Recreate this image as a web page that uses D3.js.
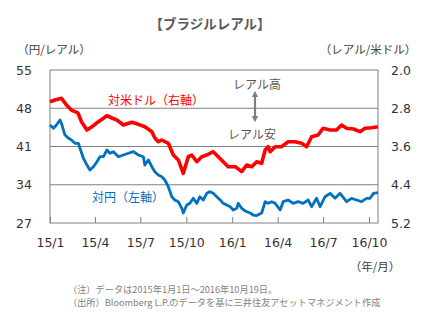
<!DOCTYPE html>
<html><head><meta charset="utf-8">
<script src="https://cdn.jsdelivr.net/npm/d3@7"></script>
<style>body{margin:0;background:#fff}svg{display:block}</style>
</head><body>
<svg id="c" width="435" height="332"></svg>
<script>
const title = "【ブラジルレアル】";
const leftTicks = [27, 34, 41, 48, 55];
const rightTicks = [2.0, 2.8, 3.6, 4.4, 5.2];
const xTickDates = ["2015-01-01","2015-04-01","2015-07-01","2015-10-01","2016-01-01","2016-04-01","2016-07-01","2016-10-01"];
const xTickLabels = ["15/1","15/4","15/7","15/10","16/1","16/4","16/7","16/10"];
const xDomain = ["2015-01-01","2016-10-19"];

const usdDates = ["2015-01-01","2015-01-11","2015-01-24","2015-02-03","2015-02-13","2015-02-26","2015-03-05","2015-03-16","2015-03-26","2015-04-08","2015-04-25","2015-05-05","2015-05-15","2015-05-28","2015-06-14","2015-06-27","2015-07-10","2015-07-24","2015-07-30","2015-08-06","2015-08-13","2015-08-26","2015-09-05","2015-09-15","2015-09-25","2015-10-05","2015-10-12","2015-10-22","2015-11-01","2015-11-11","2015-11-24","2015-12-04","2015-12-14","2015-12-24","2016-01-07","2016-01-20","2016-01-30","2016-02-09","2016-02-19","2016-02-29","2016-03-07","2016-03-13","2016-03-17","2016-03-27","2016-04-09","2016-04-22","2016-05-06","2016-05-19","2016-05-29","2016-06-08","2016-06-21","2016-07-01","2016-07-15","2016-07-28","2016-08-07","2016-08-17","2016-08-31","2016-09-13","2016-09-23","2016-10-06","2016-10-19"];
const usdValues = [2.663,2.627,2.592,2.732,2.837,2.899,3.081,3.255,3.186,3.081,2.956,3.004,3.046,3.150,3.094,3.136,3.186,3.290,3.422,3.500,3.464,3.533,3.778,3.882,4.160,3.813,3.778,3.918,3.813,3.778,3.709,3.813,3.918,4.022,4.022,4.127,3.987,4.022,3.918,3.951,3.673,3.604,3.709,3.604,3.604,3.500,3.500,3.533,3.604,3.395,3.359,3.219,3.255,3.255,3.150,3.219,3.234,3.290,3.219,3.207,3.186];

const jpyDates = ["2015-01-01","2015-01-08","2015-01-14","2015-01-21","2015-01-24","2015-01-31","2015-02-07","2015-02-13","2015-02-20","2015-02-27","2015-03-02","2015-03-09","2015-03-16","2015-03-22","2015-03-29","2015-04-05","2015-04-11","2015-04-18","2015-04-25","2015-05-01","2015-05-08","2015-05-18","2015-05-28","2015-06-07","2015-06-17","2015-06-27","2015-07-07","2015-07-10","2015-07-17","2015-07-24","2015-07-30","2015-08-06","2015-08-13","2015-08-19","2015-08-26","2015-09-02","2015-09-08","2015-09-15","2015-09-22","2015-09-25","2015-10-02","2015-10-08","2015-10-15","2015-10-22","2015-10-28","2015-11-04","2015-11-11","2015-11-17","2015-11-24","2015-12-01","2015-12-08","2015-12-14","2015-12-21","2015-12-28","2016-01-03","2016-01-10","2016-01-13","2016-01-20","2016-01-27","2016-02-06","2016-02-12","2016-02-19","2016-02-29","2016-03-07","2016-03-13","2016-03-20","2016-03-27","2016-04-06","2016-04-12","2016-04-22","2016-05-02","2016-05-12","2016-05-22","2016-06-01","2016-06-08","2016-06-18","2016-06-25","2016-07-05","2016-07-15","2016-07-25","2016-08-04","2016-08-17","2016-08-27","2016-09-06","2016-09-16","2016-09-26","2016-10-03","2016-10-10","2016-10-19"];
const jpyValues = [44.93,44.33,44.93,45.85,45.25,43.10,42.50,42.19,41.59,41.59,40.67,38.84,37.61,36.70,37.30,38.22,39.13,39.13,40.36,39.76,40.05,39.13,39.44,39.76,40.05,39.44,39.13,37.61,38.53,37.30,36.39,35.78,35.47,34.87,33.64,31.81,31.21,30.90,29.69,28.83,30.29,30.60,31.52,30.60,31.81,31.21,32.43,32.73,32.43,31.81,31.21,30.60,30.29,29.98,29.38,29.69,30.60,29.69,29.20,28.83,28.46,28.37,28.83,30.90,30.60,30.90,30.60,29.38,30.90,31.21,30.60,30.90,30.60,31.21,29.98,31.52,29.98,31.81,32.43,31.52,32.43,30.90,31.52,31.21,30.90,31.52,31.52,32.43,32.54];

const gridValues = [48, 41, 34];

const svg = d3.select("#c");
const L = 50, R = 378, T = 70, B = 223;
const parse = d3.timeParse("%Y-%m-%d");
const x = d3.scaleTime().domain(xDomain.map(parse)).range([L, R]);
const yL = d3.scaleLinear().domain([27, 55]).range([B, T]);
const yR = d3.scaleLinear().domain([2.0, 5.2]).range([T, B]);
const jp = "'Noto Sans CJK JP', sans-serif";
const num = "'DejaVu Sans', Verdana, sans-serif";

// title
svg.append("text").attr("x", 210).attr("y", 29).attr("text-anchor", "middle")
  .style("font-family", jp).style("font-size", "13.5px").style("font-weight", "bold")
  .attr("fill", "#595959").text(title);
svg.append("text").attr("x", 54).attr("y", 54).attr("text-anchor", "middle")
  .style("font-family", jp).style("font-size", "11.5px").attr("fill", "#404040").text("（円/レアル）");
svg.append("text").attr("x", 368).attr("y", 54).attr("text-anchor", "middle")
  .style("font-family", jp).style("font-size", "11.5px").attr("fill", "#404040").text("（レアル/米ドル）");

// grid
svg.append("g").selectAll("line").data(gridValues).join("line")
  .attr("x1", L).attr("x2", R).attr("y1", d => yL(d)).attr("y2", d => yL(d))
  .attr("stroke", "#808080").attr("stroke-width", 1);

// axes
const axL = svg.append("g").attr("transform", `translate(${L},0)`)
  .call(d3.axisLeft(yL).tickValues(leftTicks).tickSize(0).tickPadding(19).tickFormat(d3.format("d")));
const axR = svg.append("g").attr("transform", `translate(${R},0)`)
  .call(d3.axisRight(yR).tickValues(rightTicks).tickSize(0).tickPadding(12).tickFormat(d3.format(".1f")));
const xAx = svg.append("g").attr("transform", `translate(0,${B})`)
  .call(d3.axisBottom(x).tickValues(xTickDates.map(parse)).tickSize(-6).tickPadding(15)
    .tickFormat((d, i) => xTickLabels[i]));
[axL, axR, xAx].forEach(g => {
  g.select(".domain").remove();
  g.selectAll("text").style("font-family", num).style("font-size", "12.5px").attr("fill", "#333");
  g.selectAll("line").attr("stroke", "#808080");
});
axL.selectAll("text").attr("text-anchor", "middle").attr("x", -26);
axR.selectAll("text").attr("text-anchor", "middle").attr("x", 23);

// border
svg.append("rect").attr("x", L).attr("y", T).attr("width", R - L).attr("height", B - T)
  .attr("fill", "none").attr("stroke", "#808080").attr("stroke-width", 1);

// lines
const usd = usdDates.map((d, i) => ({ d: parse(d), v: usdValues[i] }));
const jpy = jpyDates.map((d, i) => ({ d: parse(d), v: jpyValues[i] }));
svg.append("path").datum(jpy).attr("fill", "none").attr("stroke", "#0070C0").attr("stroke-width", 2.8)
  .attr("stroke-linejoin", "round")
  .attr("d", d3.line().x(p => x(p.d)).y(p => yL(p.v)));
svg.append("path").datum(usd).attr("fill", "none").attr("stroke", "#FF0000").attr("stroke-width", 3.6)
  .attr("stroke-linejoin", "round")
  .attr("d", d3.line().x(p => x(p.d)).y(p => yR(p.v)));

// labels
svg.append("text").attr("x", 156).attr("y", 105).attr("text-anchor", "middle")
  .style("font-family", jp).style("font-size", "12px").attr("fill", "#FF0000").text("対米ドル（右軸）");
svg.append("text").attr("x", 128).attr("y", 202).attr("text-anchor", "middle")
  .style("font-family", jp).style("font-size", "12px").attr("fill", "#0070C0").text("対円（左軸）");
svg.append("text").attr("x", 257).attr("y", 89).attr("text-anchor", "middle")
  .style("font-family", jp).style("font-size", "12px").attr("fill", "#595959").text("レアル高");
svg.append("text").attr("x", 252).attr("y", 139).attr("text-anchor", "middle")
  .style("font-family", jp).style("font-size", "12px").attr("fill", "#595959").text("レアル安");

// double arrow
const defs = svg.append("defs");
defs.append("marker").attr("id", "ah").attr("viewBox", "0 0 10 10").attr("refX", 5).attr("refY", 5)
  .attr("markerWidth", 3).attr("markerHeight", 3.5).attr("orient", "auto-start-reverse")
  .append("path").attr("d", "M0,0 L10,5 L0,10 Z").attr("fill", "#808080");
svg.append("line").attr("x1", 255).attr("x2", 255).attr("y1", 94).attr("y2", 119)
  .attr("stroke", "#808080").attr("stroke-width", 2.2)
  .attr("marker-start", "url(#ah)").attr("marker-end", "url(#ah)");

// x unit and notes
svg.append("text").attr("x", 375).attr("y", 271).attr("text-anchor", "middle")
  .style("font-family", jp).style("font-size", "11.5px").attr("fill", "#404040").text("（年/月）");
svg.append("text").attr("x", 68).attr("y", 293)
  .style("font-family", jp).style("font-size", "9.2px").attr("fill", "#7f7f7f")
  .text("（注）データは2015年1月1日～2016年10月19日。");
svg.append("text").attr("x", 68).attr("y", 306)
  .style("font-family", jp).style("font-size", "9.2px").attr("fill", "#7f7f7f")
  .text("（出所）Bloomberg L.P.のデータを基に三井住友アセットマネジメント作成");
</script>
</body></html>
